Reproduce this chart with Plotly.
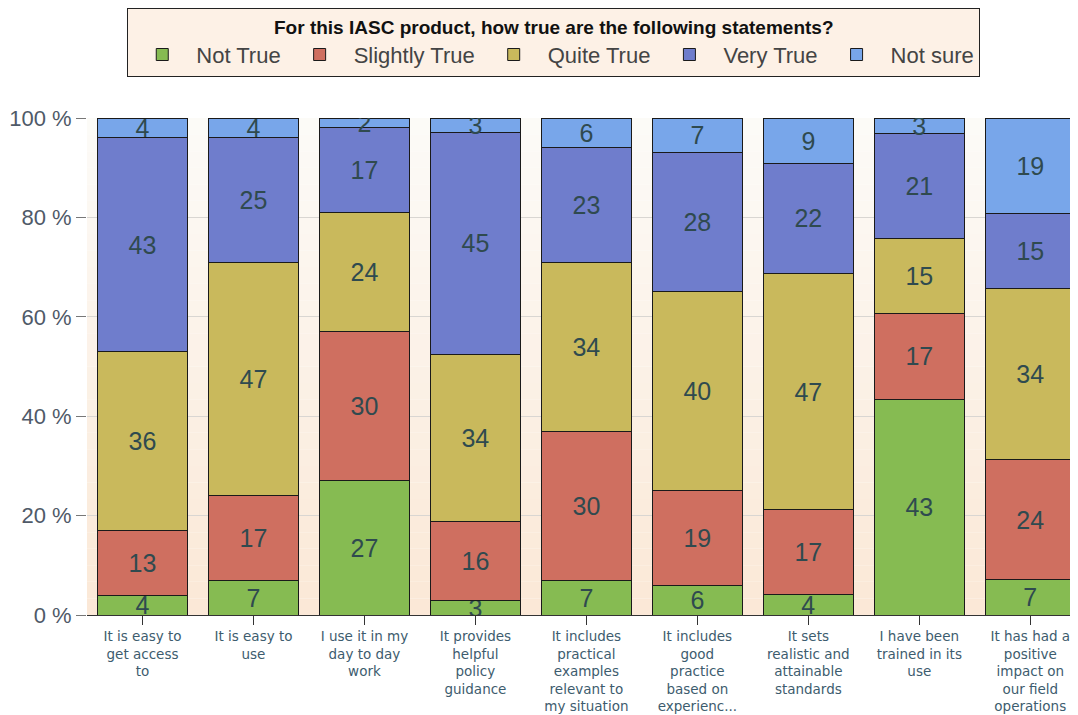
import plotly.graph_objects as go

categories = [
    "It is easy to<br>get access<br>to",
    "It is easy to<br>use",
    "I use it in my<br>day to day<br>work",
    "It provides<br>helpful<br>policy<br>guidance",
    "It includes<br>practical<br>examples<br>relevant to<br>my situation",
    "It includes<br>good<br>practice<br>based on<br>experienc...",
    "It sets<br>realistic and<br>attainable<br>standards",
    "I have been<br>trained in its<br>use",
    "It has had a<br>positive<br>impact on<br>our field<br>operations",
]
not_true = [4, 7, 27, 3, 7, 6, 4, 43, 7]
slightly_true = [13, 17, 30, 16, 30, 19, 17, 17, 24]
quite_true = [36, 47, 24, 34, 34, 40, 47, 15, 34]
very_true = [43, 25, 17, 45, 23, 28, 22, 21, 15]
not_sure = [4, 4, 2, 3, 6, 7, 9, 3, 19]
y_ticks = [0, 20, 40, 60, 80, 100]
y_tick_labels = ["0 %", "20 %", "40 %", "60 %", "80 %", "100 %"]

series = [
    ("Not True", not_true, "#86bb52"),
    ("Slightly True", slightly_true, "#cf6f60"),
    ("Quite True", quite_true, "#c9b95c"),
    ("Very True", very_true, "#6f7dcc"),
    ("Not sure", not_sure, "#78a6ea"),
]

xpos = list(range(len(categories)))

fig = go.Figure()
for name, vals, col in series:
    fig.add_trace(go.Bar(
        x=xpos, y=vals, name=name,
        marker=dict(color=col, line=dict(color="#1a1a1a", width=1)),
        text=[str(v) for v in vals],
        textposition="inside", insidetextanchor="middle", textangle=0,
        textfont=dict(family="Liberation Sans, Arial", size=25, color="#2f4a4f"),
        constraintext="none",
    ))

# background gradient of the plot area (white at top to peach at bottom)
shapes = []
n = 30
top = (252, 251, 248)
bot = (251, 232, 214)
for i in range(n):
    t = (i + 0.5) / n
    c = tuple(int(round(top[k] + (bot[k] - top[k]) * t)) for k in range(3))
    shapes.append(dict(
        type="rect", xref="x domain", yref="y domain",
        x0=0, x1=1, y0=1 - (i + 1) / n, y1=1 - i / n,
        fillcolor="rgb(%d,%d,%d)" % c, line=dict(width=0), layer="below",
    ))

fig.update_layout(
    width=1070, height=707,
    barmode="stack", barnorm="percent", bargap=0.19,
    paper_bgcolor="white", plot_bgcolor="rgba(0,0,0,0)",
    margin=dict(l=79, r=0, t=109, b=100),
    shapes=shapes,
    uniformtext=dict(minsize=25, mode="show"),
    showlegend=True,
    legend=dict(
        orientation="h", x=0.471, xanchor="center", y=1.222, yanchor="top",
        bgcolor="#fdf1e6", bordercolor="#222222", borderwidth=1,
        title=dict(text="<b>For this IASC product, how true are the following statements?</b>",
                   side="top center",
                   font=dict(family="Liberation Sans Narrow, Liberation Sans, Arial", size=19, color="#111111")),
        font=dict(family="Liberation Sans Narrow, Liberation Sans, Arial", size=22, color="#444444"),
        itemwidth=58,
        traceorder="normal",
    ),
    xaxis=dict(
        tickmode="array", tickvals=xpos, ticktext=categories,
        range=[-0.5, 8.43],
        showgrid=False, showline=True, linecolor="#333333", linewidth=1,
        ticks="outside", ticklen=9, tickcolor="#333333",
        tickfont=dict(family="DejaVu Sans, Verdana", size=13.5, color="#3d5c6e"),
    ),
    yaxis=dict(
        range=[0, 100], tickmode="array", tickvals=y_ticks, ticktext=y_tick_labels,
        showgrid=True, gridcolor="#d9d6d2", gridwidth=1,
        zeroline=False, showline=False,
        ticks="outside", ticklen=10, tickcolor="#777777",
        tickfont=dict(family="Liberation Sans, Arial", size=22, color="#4f5a68"),
    ),
)

fig.write_html("out.html")
